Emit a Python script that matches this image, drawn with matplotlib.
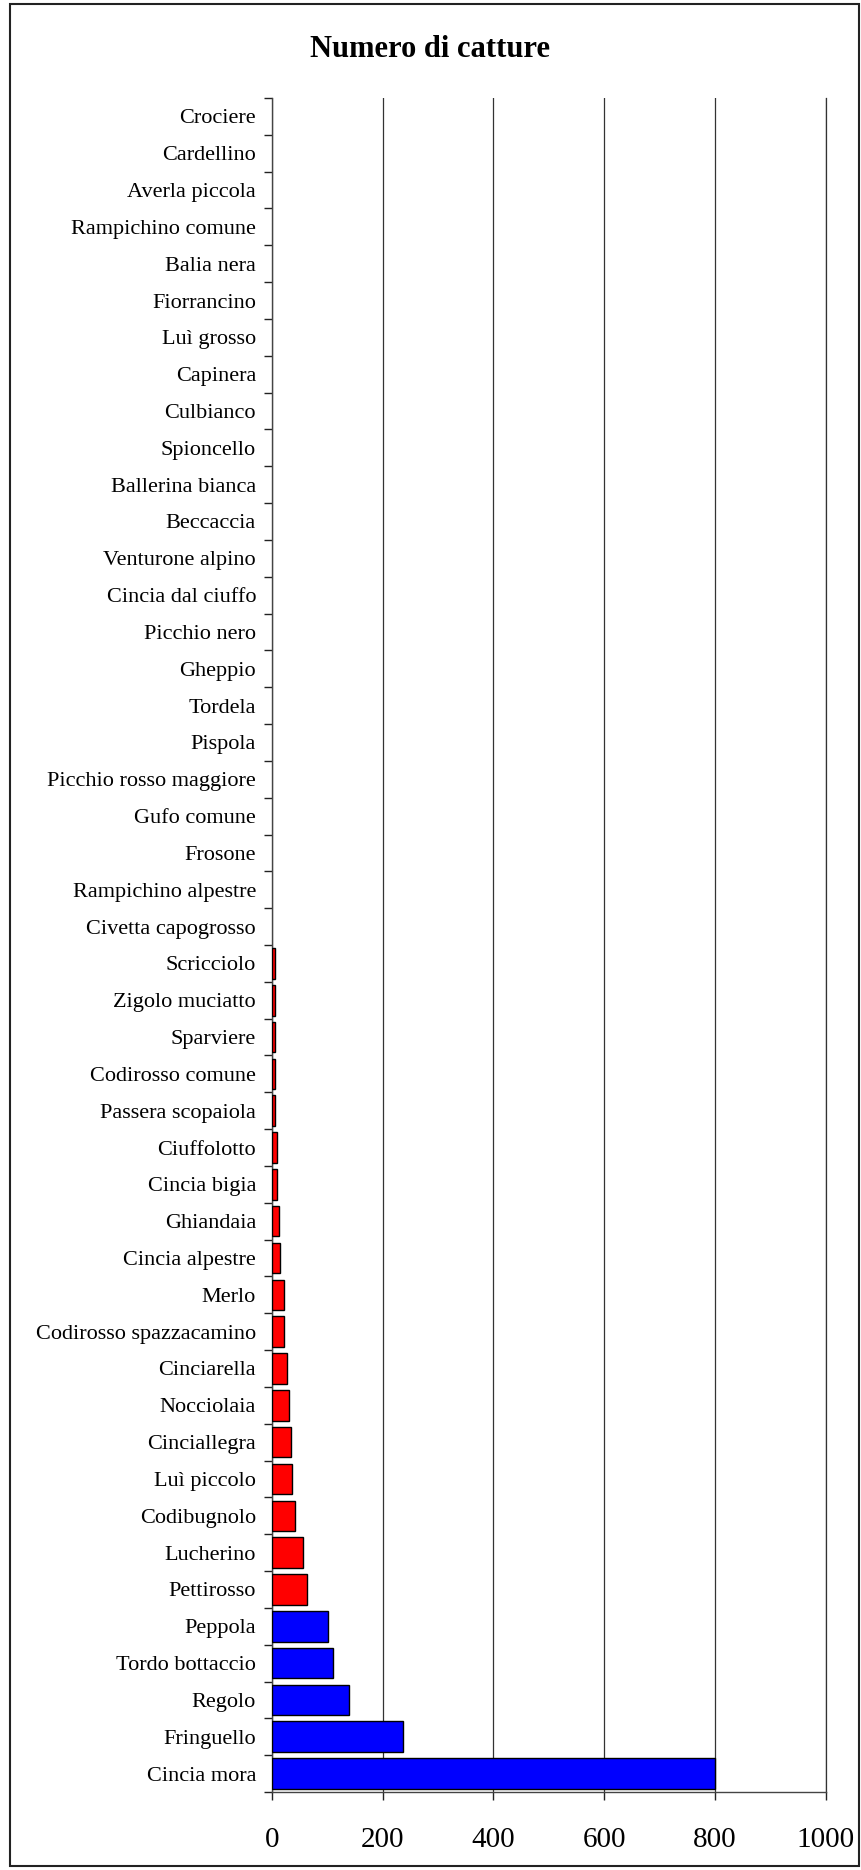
import matplotlib.pyplot as plt
from matplotlib.patches import Rectangle

# species, top to bottom as in the chart
specie = ["Crociere", "Cardellino", "Averla piccola", "Rampichino comune",
          "Balia nera", "Fiorrancino", "Luì grosso", "Capinera", "Culbianco",
          "Spioncello", "Ballerina bianca", "Beccaccia", "Venturone alpino",
          "Cincia dal ciuffo", "Picchio nero", "Gheppio", "Tordela", "Pispola",
          "Picchio rosso maggiore", "Gufo comune", "Frosone",
          "Rampichino alpestre", "Civetta capogrosso", "Scricciolo",
          "Zigolo muciatto", "Sparviere", "Codirosso comune",
          "Passera scopaiola", "Ciuffolotto", "Cincia bigia", "Ghiandaia",
          "Cincia alpestre", "Merlo", "Codirosso spazzacamino", "Cinciarella",
          "Nocciolaia", "Cinciallegra", "Luì piccolo", "Codibugnolo",
          "Lucherino", "Pettirosso", "Peppola", "Tordo bottaccio", "Regolo",
          "Fringuello", "Cincia mora"]
catture = [0, 0, 0, 0, 0, 0, 0, 0, 0, 0, 0, 0, 0, 0, 0, 0, 0, 0, 0, 0, 0, 0, 0,
           5, 5, 5, 6, 6, 9, 9, 12, 15, 22, 22, 28, 31, 34, 37, 41,
           56, 63, 101, 111, 139, 236, 800]
xticks = [0, 200, 400, 600, 800, 1000]

SOGLIA = 100  # above this the bar is blue

plt.rcParams['font.family'] = ['Liberation Serif', 'DejaVu Serif']

fig = plt.figure(figsize=(8.61, 18.70), dpi=100)
ax = fig.add_axes([0.3159, 0.04171, 0.9588 - 0.3159, 0.9476 - 0.04171])

pos = list(range(len(specie)))
colori = ['#0000FF' if v > SOGLIA else '#FF0000' for v in catture]
lw = [1.0 if v > 0 else 0 for v in catture]
ax.barh(pos, catture, height=0.83, color=colori, edgecolor='black', linewidth=lw, zorder=3)

ax.set_ylim(len(specie) - 0.5, -0.5)
ax.set_xlim(0, 1000)
ax.set_xticks(xticks)
ax.set_xticklabels([str(t) for t in xticks], fontsize=21)
ax.set_yticks(pos)
ax.set_yticklabels(specie, fontsize=16)
ax.set_yticks([p - 0.5 for p in pos] + [len(specie) - 0.5], minor=True)
ax.tick_params(axis='y', which='major', length=0, pad=11.5)
ax.tick_params(axis='y', which='minor', length=6, width=1, direction='out', color='#222222')
ax.tick_params(axis='x', length=6, width=1, direction='out', pad=19, color='#222222')

ax.xaxis.grid(True, color='#333333', linewidth=0.9, zorder=0)
ax.set_axisbelow(True)
ax.spines['top'].set_visible(False)
ax.spines['right'].set_color('#333333')
ax.spines['right'].set_linewidth(0.9)
ax.spines['left'].set_color('#444444')
ax.spines['bottom'].set_color('#444444')
ax.spines['left'].set_linewidth(1.0)
ax.spines['bottom'].set_linewidth(1.0)

fig.text(0.50, 0.9735, "Numero di catture", ha='center', va='center',
         fontsize=22, fontweight='bold')

# outer border of the chart area
fig.patches.append(Rectangle((10 / 861, 4 / 1870), 849 / 861, 1862 / 1870,
                             transform=fig.transFigure, fill=False,
                             edgecolor='#222222', linewidth=1.5))

fig.savefig('out.png', dpi=100)
